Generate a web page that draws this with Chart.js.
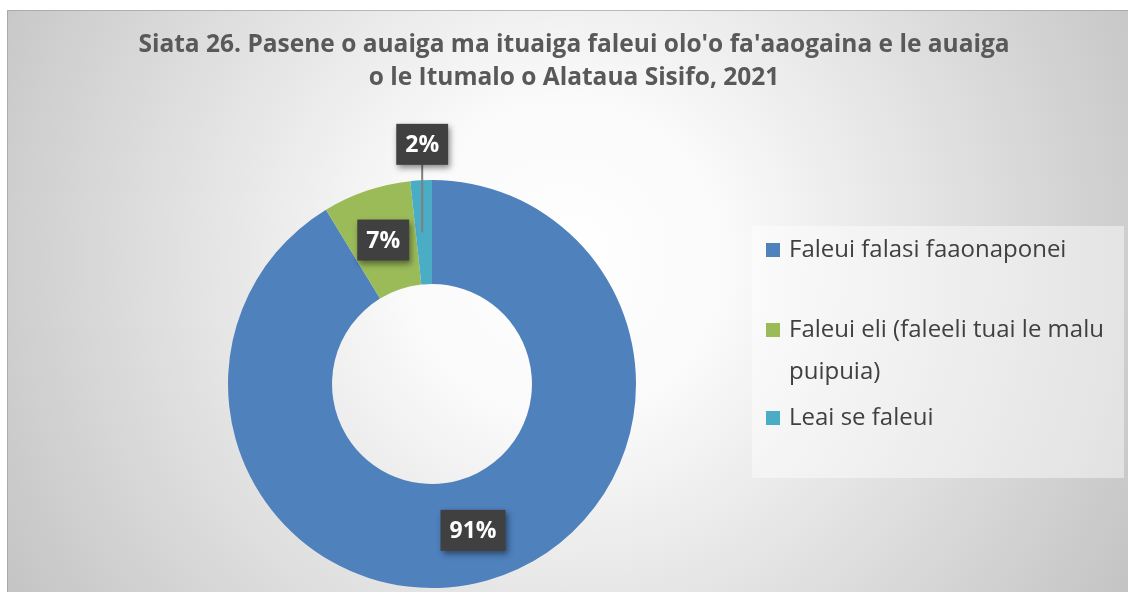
<!DOCTYPE html>
<html>
<head>
<meta charset="utf-8">
<script src="https://cdn.jsdelivr.net/npm/chart.js@4"></script>
<style>
  html, body { margin: 0; padding: 0; background: #fff; }
  #wrap { position: relative; width: 1128px; height: 592px; }
</style>
</head>
<body>
<div id="wrap"><canvas id="myChart" width="1128" height="592"></canvas></div>
<script>
// data
const categories = ["Faleui falasi faaonaponei", "Faleui eli (faleeli tuai le malu puipuia)", "Leai se faleui"];
const legendLines = [["Faleui falasi faaonaponei"], ["Faleui eli (faleeli tuai le malu", "puipuia)"], ["Leai se faleui"]];
const values = [91.3, 7.0, 1.7];
const colors = ["#4f81bd", "#9bbb59", "#4bacc6"];
const titleLines = ["Siata 26. Pasene o auaiga ma ituaiga faleui olo'o fa'aaogaina e le auaiga", "o le Itumalo o Alataua Sisifo, 2021"];

const FONT = "'Open Sans', Lato, sans-serif";

// background, title, legend box
const bgPlugin = {
  id: 'bg',
  beforeDraw(chart) {
    const ctx = chart.ctx;
    ctx.save();
    ctx.fillStyle = '#ffffff';
    ctx.fillRect(0, 0, chart.width, chart.height);
    const g = ctx.createRadialGradient(565, 260, 0, 565, 260, 650);
    g.addColorStop(0, '#ffffff');
    g.addColorStop(0.25, '#fafafa');
    g.addColorStop(1, '#c4c4c4');
    ctx.fillStyle = g;
    ctx.fillRect(7, 10, chart.width - 7, chart.height - 10);
    ctx.strokeStyle = 'rgba(150,150,150,0.6)';
    ctx.lineWidth = 1;
    ctx.beginPath();
    ctx.moveTo(7.5, chart.height);
    ctx.lineTo(7.5, 10.5);
    ctx.lineTo(chart.width, 10.5);
    ctx.stroke();

    ctx.fillStyle = '#595959';
    ctx.font = "bold 24.5px " + FONT;
    ctx.textAlign = 'center';
    ctx.textBaseline = 'middle';
    titleLines.forEach((t, i) => ctx.fillText(t, 574, 45 + i * 33));

    ctx.fillStyle = 'rgba(255,255,255,0.45)';
    ctx.fillRect(752, 226, 372, 252);
    ctx.restore();
  },
  afterDraw(chart) {
    const ctx = chart.ctx;
    ctx.save();
    ctx.font = "24px " + FONT;
    ctx.textBaseline = 'middle';
    ctx.textAlign = 'left';
    const lineYs = [[250], [330, 372], [418]];
    legendLines.forEach((lines, i) => {
      ctx.fillStyle = colors[i];
      ctx.fillRect(766, lineYs[i][0] - 7, 14, 14);
      ctx.fillStyle = '#404040';
      lines.forEach((l, j) => ctx.fillText(l, 789, lineYs[i][j]));
    });

    // data labels
    const total = values.reduce((a, b) => a + b, 0);
    const meta = chart.getDatasetMeta(0);
    meta.data.forEach((arc, i) => {
      const p = arc.getProps(['x', 'y', 'startAngle', 'endAngle', 'innerRadius', 'outerRadius'], true);
      const mid = (p.startAngle + p.endAngle) / 2;
      const pct = Math.round(values[i] / total * 100) + '%';
      const r = (p.innerRadius + p.outerRadius) / 2;
      const small = (p.endAngle - p.startAngle) < 0.2;
      let lx, ly;
      if (small) {
        lx = p.x + Math.cos(mid) * (p.outerRadius + 36) + 3;
        ly = p.y + Math.sin(mid) * (p.outerRadius + 36);
      } else {
        lx = p.x + Math.cos(mid) * r;
        ly = p.y + Math.sin(mid) * r;
      }
      ctx.font = "bold 23px " + FONT;
      const w = ctx.measureText(pct).width + 18;
      const h = 41;
      if (small) {
        ctx.strokeStyle = '#7f7f7f';
        ctx.lineWidth = 2;
        ctx.beginPath();
        ctx.moveTo(lx, ly + h / 2);
        ctx.lineTo(lx, p.y + Math.sin(mid) * r);
        ctx.stroke();
      }
      ctx.save();
      ctx.shadowColor = 'rgba(0,0,0,0.45)';
      ctx.shadowBlur = 6;
      ctx.shadowOffsetX = 2;
      ctx.shadowOffsetY = 3;
      ctx.fillStyle = '#404040';
      ctx.fillRect(lx - w / 2, ly - h / 2, w, h);
      ctx.restore();
      ctx.fillStyle = '#ffffff';
      ctx.textAlign = 'center';
      ctx.fillText(pct, lx, ly + 1);
    });
    ctx.restore();
  }
};

new Chart(document.getElementById("myChart"), {
  type: 'doughnut',
  data: {
    labels: categories,
    datasets: [{
      data: values,
      backgroundColor: colors,
      borderWidth: 0
    }]
  },
  options: {
    responsive: false,
    animation: false,
    cutout: '49%',
    layout: {
      padding: { top: 180, bottom: 4, left: 228, right: 492 }
    },
    plugins: {
      legend: { display: false },
      title: { display: false },
      tooltip: { enabled: false }
    }
  },
  plugins: [bgPlugin]
});
</script>
</body>
</html>
